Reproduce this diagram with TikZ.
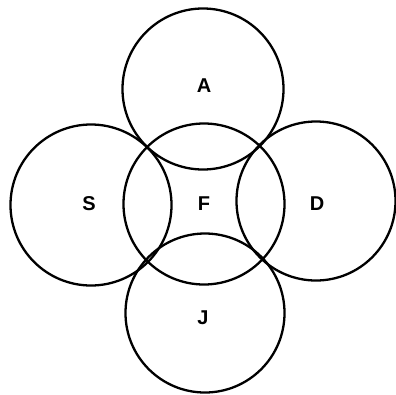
\documentclass[tikz,border=0pt]{standalone}
\usepackage{fontspec}
\setmainfont{Liberation Sans}
\begin{document}
\begin{tikzpicture}[x=1pt,y=-1pt,
  ring/.style={draw=black,line width=2.3pt},
  lbl/.style={font=\bfseries\fontsize{20}{20}\selectfont,inner sep=0pt}]
\useasboundingbox (0,0) rectangle (396,394);
\draw[ring] (203,89) circle[radius=80.5];
\draw[ring] (91,205) circle[radius=80.5];
\draw[ring] (204,204) circle[radius=80.5];
\draw[ring] (316,201) circle[radius=79.5];
\draw[ring] (205,313) circle[radius=79.5];
\node[lbl] (A) at (204,86) {A};
\node[lbl] (S) at (89,204) {S};
\node[lbl] (F) at (204,204) {F};
\node[lbl] (D) at (317,204) {D};
\node[lbl] (J) at (203,318) {J};
\end{tikzpicture}
\end{document}
